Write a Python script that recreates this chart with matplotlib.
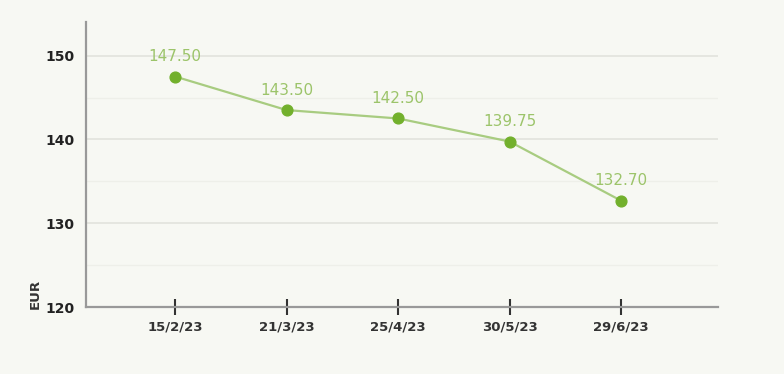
import matplotlib.pyplot as plt
from matplotlib.ticker import MultipleLocator

dates = ["15/2/23", "21/3/23", "25/4/23", "30/5/23", "29/6/23"]
prices = [147.50, 143.50, 142.50, 139.75, 132.70]

bg = "#f7f8f3"
fig = plt.figure(figsize=(7.84, 3.74), dpi=100, facecolor=bg)
ax = fig.add_axes([0.1097, 0.179, 0.806, 0.762], facecolor=bg)

x = list(range(len(dates)))
ax.plot(x, prices, color="#a8cc80", lw=1.6, zorder=3)
ax.scatter(x, prices, s=60, color="#72b02c", zorder=4)
for xi, p in zip(x, prices):
    ax.annotate(f"{p:.2f}", (xi, p), xytext=(0, 9), textcoords="offset points",
                ha="center", va="bottom", color="#9cc46a", fontsize=11)

ax.set_xlim(-0.8, 4.87)
ax.set_ylim(120, 154)
ax.set_xticks(x)
ax.set_xticklabels(dates, fontsize=9.5, fontweight="bold", color="#333333")
ax.set_yticks([120, 130, 140, 150])
ax.yaxis.set_minor_locator(MultipleLocator(5))
ax.tick_params(axis="y", which="both", length=0, labelsize=10, labelcolor="#222222", pad=8)
for lbl in ax.get_yticklabels():
    lbl.set_fontweight("bold")
ax.tick_params(axis="x", direction="inout", length=12, width=1.5, color="#333333", pad=4)

ax.grid(axis="y", which="major", color="#e2e3dd", lw=1.2)
ax.grid(axis="y", which="minor", color="#eeefe9", lw=1)
ax.set_axisbelow(True)

for s in ["top", "right"]:
    ax.spines[s].set_visible(False)
for s in ["left", "bottom"]:
    ax.spines[s].set_color("#999999")
    ax.spines[s].set_linewidth(1.6)

fig.text(0.045, 0.215, "EUR", rotation=90, fontsize=9.5, fontweight="bold",
         color="#333333", ha="center", va="center")

fig.savefig("out.png", dpi=100, facecolor=bg)
